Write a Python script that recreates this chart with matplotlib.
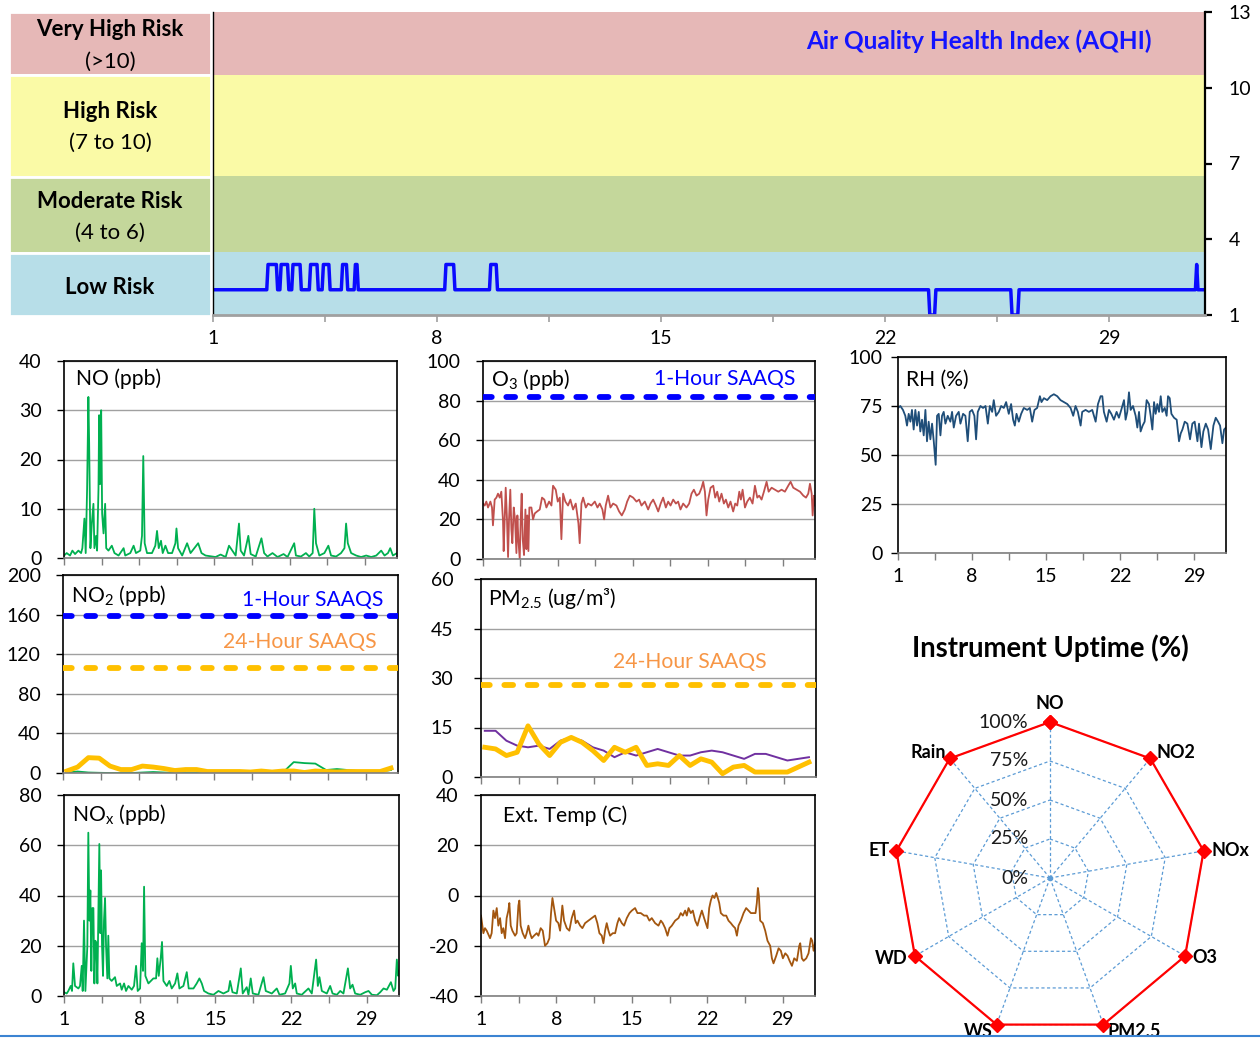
import numpy as np
import matplotlib
matplotlib.use('Agg')
import matplotlib.pyplot as plt
from matplotlib.lines import Line2D
from matplotlib.patches import Rectangle

plt.rcParams['font.family'] = ['Lato', 'DejaVu Sans']
plt.rcParams['mathtext.fontset'] = 'custom'
plt.rcParams['mathtext.rm'] = 'Lato'
plt.rcParams['mathtext.it'] = 'Lato:italic'
plt.rcParams['mathtext.bf'] = 'Lato:bold'
plt.rcParams['axes.unicode_minus'] = False

# ---------------- DATA ----------------
risk_names = ["Very High Risk", "High Risk", "Moderate Risk", "Low Risk"]
risk_ranges = ["(>10)", "(7 to 10)", "(4 to 6)", ""]
risk_edges = [13, 10.5, 6.5, 3.5, 1]
risk_colors = ["#E6B8B7", "#FAFAA6", "#C4D79B", "#B7DEE8"]
aqhi_ticks = [1, 4, 7, 10, 13]

day_ticks = [1, 4.5, 8, 11.5, 15, 18.5, 22, 25.5, 29]
day_labels = ["1", "", "8", "", "15", "", "22", "", "29"]

aqhi_day = [1.0, 2.68, 2.72, 2.98, 3.02, 3.09, 3.13, 3.33, 3.37, 3.46, 3.50, 3.72, 3.76,
            4.01, 4.05, 4.25, 4.29, 4.41, 4.45, 4.62, 4.66, 5.01, 5.05, 5.17, 5.21, 5.41,
            5.45, 5.50, 5.54, 8.24, 8.28, 8.52, 8.56, 9.64, 9.68, 9.85, 9.89, 23.36, 23.40,
            23.55, 23.59, 25.93, 25.97, 26.15, 26.19, 31.70, 31.74, 31.78, 31.97]
aqhi_val = [2, 2, 3, 3, 2, 2, 3, 3, 2, 2, 3, 3, 2,
            2, 3, 3, 2, 2, 3, 3, 2, 2, 3, 3, 2, 2,
            3, 3, 2, 2, 3, 3, 2, 2, 3, 3, 2, 2, 1,
            1, 2, 2, 1, 1, 2, 2, 3, 2, 2]

no_day = [1.0, 1.25, 1.56, 1.78, 2.03, 2.34, 2.59, 2.71, 2.90, 3.02, 3.15, 3.27, 3.34, 3.46,
          3.59, 3.74, 3.83, 3.99, 4.08, 4.21, 4.27, 4.36, 4.46, 4.55, 4.68, 4.83, 4.93, 5.14,
          5.45, 5.70, 6.08, 6.55, 6.70, 7.17, 7.48, 7.70, 8.10, 8.26, 8.38, 8.51, 8.73, 9.19,
          9.50, 9.66, 9.82, 10.03, 10.19, 10.44, 10.69, 11.06, 11.37, 11.47, 11.62, 12.0,
          12.46, 12.78, 13.49, 13.80, 14.18, 15.11, 15.58, 16.05, 16.36, 16.67, 16.98, 17.29,
          17.45, 17.76, 18.16, 18.38, 18.85, 19.38, 19.63, 19.94, 20.41, 20.88, 21.44, 21.81,
          22.43, 22.59, 23.06, 23.52, 23.83, 24.15, 24.30, 24.46, 24.77, 25.24, 25.61, 25.86,
          26.33, 26.79, 27.11, 27.26, 27.42, 27.73, 28.20, 28.66, 29.13, 29.60, 30.07, 30.53,
          30.84, 31.16, 31.37, 31.62, 32.0]
no_val = [0.5, 1.0, 0.5, 1.5, 0.8, 1.5, 1.0, 2.0, 8.0, 1.0, 14, 32.7, 23.5, 2,
          7, 11, 2, 4.5, 1.5, 14, 29, 15, 30, 9, 5, 11, 2, 1.5,
          2.5, 1, 0.5, 2, 0.5, 1, 2.5, 1, 1.5, 4.5, 20.7, 3, 1, 1,
          2.5, 5.5, 2, 3.5, 1, 2.5, 1, 1, 3, 6, 2, 0.5,
          3, 1, 3, 1, 0.5, 0.2, 0.7, 0.2, 2.5, 1.5, 0.5, 7,
          1.5, 0.5, 4.5, 0.8, 0.3, 4, 1, 0.3, 1, 0.2, 0.8, 0.2,
          3, 0.5, 0.3, 1, 0.3, 1, 10, 3, 0.5, 1, 2.5, 0.5,
          0.3, 1, 2, 7, 3, 1, 0.5, 0.2, 0.5, 0.2, 0.5, 1.5,
          0.5, 1, 2, 0.5, 1]

nox_day = [1.0, 1.25, 1.40, 1.62, 1.74, 1.86, 2.02, 2.33, 2.48, 2.64, 2.73, 2.85, 2.98, 3.16,
           3.25, 3.35, 3.44, 3.53, 3.62, 3.72, 3.81, 3.90, 3.99, 4.09, 4.18, 4.27, 4.36, 4.43,
           4.52, 4.61, 4.70, 4.80, 4.89, 5.01, 5.10, 5.20, 5.41, 5.72, 5.88, 6.19, 6.34, 6.56,
           6.74, 6.96, 7.27, 7.48, 7.67, 7.82, 8.04, 8.19, 8.31, 8.41, 8.53, 8.81, 9.27, 9.52,
           9.64, 9.77, 9.95, 10.07, 10.20, 10.51, 10.75, 10.97, 11.28, 11.49, 11.68, 12.05,
           12.36, 12.54, 12.98, 13.28, 13.53, 13.75, 13.96, 14.36, 14.83, 15.29, 15.75, 16.22,
           16.37, 16.59, 16.99, 17.36, 17.54, 17.91, 18.07, 18.28, 18.47, 18.99, 19.46, 19.67,
           20.23, 20.69, 20.94, 21.46, 21.86, 21.99, 22.17, 22.39, 22.54, 23.0, 23.62, 23.93,
           24.33, 24.49, 24.64, 24.86, 25.32, 25.63, 25.85, 26.25, 26.56, 26.86, 27.27, 27.48,
           27.70, 27.94, 28.41, 28.87, 29.18, 29.49, 29.95, 30.26, 30.57, 30.88, 31.25, 31.49,
           31.65, 31.80, 31.93, 32.0]
nox_val = [1.5, 1, 2, 4, 2, 13, 4, 3, 4, 12, 2, 30, 2, 20,
           65, 30, 42, 10, 35, 35, 5, 22, 21, 5, 34, 60.5, 25, 50,
           20, 8, 30, 39, 20, 7, 24, 7, 6, 7.5, 4, 5, 2.5, 5,
           2, 4, 2.5, 4, 12, 2, 3, 21, 10, 43.5, 8, 5, 7, 7,
           15, 8, 15, 21.5, 6, 4, 6, 3, 5, 9, 3, 4,
           9.5, 3, 3, 5, 7, 5, 2, 1, 0.5, 2, 1, 2,
           6, 1.5, 1, 11, 1, 3.5, 0.5, 7, 1, 0.5, 7.5, 2,
           1, 3, 0.5, 1, 5, 12, 3, 5, 1, 0.5, 3, 1,
           14.5, 4, 7.5, 2, 1, 4, 1, 0.5, 2, 1, 11, 3,
           4.5, 1, 0.5, 1.5, 2, 0.5, 0.3, 1.5, 3, 2.5, 5.5, 2,
           3, 14.5, 8, 10]

o3_day = [1.0, 1.16, 1.31, 1.47, 1.69, 1.84, 1.93, 2.09, 2.25, 2.40, 2.56, 2.71, 2.87, 2.93,
          3.02, 3.12, 3.24, 3.34, 3.43, 3.55, 3.65, 3.74, 3.87, 3.99, 4.12, 4.21, 4.30, 4.43,
          4.52, 4.61, 4.71, 4.83, 4.96, 5.05, 5.14, 5.24, 5.33, 5.52, 5.67, 5.83, 6.05, 6.30,
          6.51, 6.73, 6.92, 7.17, 7.39, 7.54, 7.79, 7.98, 8.17, 8.32, 8.48, 8.69, 8.94, 9.16,
          9.41, 9.66, 9.91, 10.03, 10.19, 10.35, 10.60, 10.81, 11.12, 11.44, 11.69, 11.90,
          12.15, 12.31, 12.46, 12.68, 12.90, 13.15, 13.46, 13.71, 13.96, 14.24, 14.46, 14.71,
          15.02, 15.33, 15.58, 15.80, 16.11, 16.42, 16.64, 16.89, 17.14, 17.36, 17.59, 17.82,
          18.07, 18.29, 18.51, 18.76, 19.01, 19.22, 19.44, 19.69, 20.0, 20.25, 20.47, 20.69,
          20.94, 21.19, 21.41, 21.56, 21.72, 21.87, 22.03, 22.25, 22.50, 22.68, 22.87, 23.06,
          23.27, 23.49, 23.68, 23.90, 24.11, 24.36, 24.55, 24.74, 24.93, 25.08, 25.24, 25.46,
          25.67, 25.92, 26.17, 26.39, 26.61, 26.79, 27.01, 27.23, 27.48, 27.67, 27.95, 28.26,
          28.57, 28.88, 29.19, 29.50, 29.72, 29.97, 30.28, 30.60, 30.91, 31.16, 31.37, 31.53,
          31.69, 31.78, 31.91, 32.0]
o3_val = [28, 27, 29, 26, 29, 26, 17, 30, 31, 33, 31, 34, 19, 4,
          20, 36, 20, 1, 20, 35, 15, 8, 26, 20, 3, 22, 10, 0,
          20, 33, 10, 2, 25, 5, 22, 4, 26, 26, 20, 23, 24, 25,
          31, 30, 26, 29, 27, 37, 35, 29, 31, 10, 33, 29, 27, 30,
          25, 28, 18, 8, 28, 31, 26, 28, 27, 29, 26, 28,
          25, 20, 27, 32, 26, 28, 27, 24, 22, 25, 29, 32,
          31, 29, 30, 27, 29, 25, 28, 30, 27, 24, 28, 31,
          26, 29, 27, 30, 28, 29, 25, 28, 26, 28, 33, 35,
          32, 33, 36, 39, 34, 22, 30, 36, 37, 31, 34, 29,
          33, 28, 30, 26, 29, 24, 28, 27, 34, 30, 35, 26,
          29, 31, 28, 37, 31, 32, 30, 34, 39, 34, 36, 35,
          34, 35, 34, 37, 39, 36, 35, 34, 32, 31, 33, 38,
          33, 22, 32, 27]

rh_day = [1.0, 1.22, 1.47, 1.69, 1.85, 2.01, 2.17, 2.32, 2.48, 2.64, 2.80, 2.96, 3.11, 3.27,
          3.43, 3.59, 3.74, 3.90, 4.06, 4.22, 4.38, 4.56, 4.69, 4.85, 5.01, 5.16, 5.32, 5.48,
          5.70, 5.95, 6.11, 6.27, 6.49, 6.74, 6.90, 7.15, 7.37, 7.59, 7.78, 8.0, 8.22, 8.38,
          8.54, 8.79, 9.04, 9.27, 9.49, 9.68, 9.90, 10.05, 10.27, 10.53, 10.75, 11.0, 11.22,
          11.47, 11.69, 11.88, 12.04, 12.20, 12.42, 12.64, 12.89, 13.21, 13.46, 13.68, 13.90,
          14.15, 14.41, 14.56, 14.79, 15.10, 15.42, 15.73, 16.05, 16.36, 16.68, 17.0, 17.31,
          17.56, 17.78, 18.0, 18.26, 18.41, 18.73, 19.04, 19.36, 19.68, 19.90, 20.15, 20.31,
          20.46, 20.72, 20.94, 21.16, 21.41, 21.66, 21.88, 22.10, 22.36, 22.51, 22.67, 22.83,
          22.99, 23.21, 23.46, 23.62, 23.78, 23.93, 24.12, 24.31, 24.50, 24.72, 24.88, 25.04,
          25.20, 25.35, 25.51, 25.67, 25.83, 25.98, 26.21, 26.39, 26.52, 26.68, 26.84, 27.09,
          27.34, 27.56, 27.72, 27.88, 28.10, 28.35, 28.60, 28.82, 29.04, 29.30, 29.45, 29.68,
          29.86, 30.09, 30.31, 30.56, 30.81, 31.03, 31.25, 31.44, 31.66, 31.82, 32.0]
rh_val = [74, 75, 73, 70, 65, 71, 67, 73, 63, 73, 65, 72, 62, 68,
          60, 73, 57, 67, 58, 66, 57, 45, 70, 71, 60, 70, 72, 66,
          70, 67, 72, 64, 70, 72, 66, 71, 70, 57, 72, 73, 70, 58,
          72, 75, 74, 75, 66, 75, 72, 78, 70, 72, 75, 74, 77,
          71, 76, 68, 65, 71, 67, 71, 74, 73, 74, 67, 73,
          74, 80, 77, 79, 78, 80, 81, 80, 78, 77, 76, 74,
          70, 75, 72, 65, 72, 73, 72, 73, 67, 76, 80, 80,
          72, 67, 73, 71, 68, 72, 69, 73, 78, 68, 72, 82,
          73, 75, 70, 64, 72, 62, 65, 67, 78, 76, 70, 63,
          77, 71, 76, 72, 80, 72, 74, 70, 80, 79, 71, 69,
          68, 57, 61, 63, 67, 66, 58, 66, 67, 57, 66, 54,
          62, 66, 63, 53, 65, 69, 67, 65, 56, 63, 64]

temp_day = [1.0, 1.22, 1.37, 1.53, 1.84, 1.99, 2.15, 2.30, 2.46, 2.61, 2.77, 2.92, 3.07, 3.23,
            3.38, 3.54, 3.63, 3.76, 3.91, 4.16, 4.31, 4.47, 4.56, 4.68, 4.87, 5.09, 5.24, 5.40,
            5.55, 5.71, 5.92, 6.17, 6.33, 6.54, 6.73, 6.94, 7.16, 7.35, 7.50, 7.63, 7.78, 7.97,
            8.18, 8.34, 8.55, 8.71, 8.96, 9.20, 9.42, 9.64, 9.79, 9.95, 10.20, 10.41, 10.66,
            10.97, 11.28, 11.59, 11.80, 11.99, 12.21, 12.36, 12.52, 12.67, 12.83, 12.98, 13.23,
            13.45, 13.66, 13.82, 14.07, 14.28, 14.53, 14.78, 15.0, 15.30, 15.52, 15.83, 16.14,
            16.39, 16.63, 16.85, 17.16, 17.47, 17.69, 17.87, 18.09, 18.31, 18.49, 18.71, 19.02,
            19.33, 19.54, 19.73, 19.95, 20.10, 20.26, 20.47, 20.66, 20.88, 21.09, 21.28, 21.50,
            21.71, 22.02, 22.18, 22.33, 22.49, 22.67, 22.83, 22.98, 23.11, 23.26, 23.51, 23.76,
            23.97, 24.19, 24.37, 24.59, 24.75, 24.90, 25.12, 25.37, 25.61, 25.83, 26.05, 26.29,
            26.48, 26.60, 26.70, 26.79, 26.91, 27.16, 27.38, 27.59, 27.84, 28.0, 28.15, 28.40,
            28.62, 28.83, 29.02, 29.24, 29.45, 29.64, 29.86, 30.07, 30.32, 30.54, 30.63, 30.78,
            30.94, 31.19, 31.40, 31.62, 31.74, 31.87, 32.0]
temp_val = [-8, -15, -13, -14, -17, -15, -6, -9, -5, -12, -9, -15, -13, -17,
            -9, -6, -3, -12, -14, -16, -15, -4, -2, -12, -15, -17, -15, -12,
            -15, -17, -16, -15, -16, -13, -14, -20, -19, -17, -7, -1, -5, -10,
            -11, -14, -4, -10, -13, -14, -9, -6, -11, -10, -12, -13, -11,
            -10, -9, -8, -11, -15, -16, -19, -14, -11, -14, -16, -15,
            -15, -11, -9, -11, -12, -9, -7, -6, -5, -7, -7, -8,
            -8, -10, -9, -11, -12, -10, -11, -13, -16, -13, -12, -10,
            -9, -7, -8, -6, -8, -5, -7, -6, -10, -12, -9, -6,
            -9, -13, -5, -2, 0, -1, 1, -1, -3, -7, -8, -8,
            -10, -11, -12, -13, -16, -12, -10, -7, -5, -6, -7, -7,
            -7, -3, 3, 0, -10, -11, -14, -18, -20, -25, -27, -24,
            -21, -22, -25, -23, -24, -26, -28, -25, -26, -20, -19, -25,
            -26, -25, -23, -17, -18, -22, -19]

daily_day = [1.35, 2.35, 3.35, 4.35, 5.35, 6.35, 7.35, 8.35, 9.35, 10.35, 11.35, 12.35, 13.35,
             14.35, 15.35, 16.35, 17.35, 18.35, 19.35, 20.35, 21.35, 22.35, 23.35, 24.35, 25.35,
             26.35, 27.35, 28.35, 29.35, 30.35, 31.35]
no2_daily = [2, 6, 15.5, 15, 7, 3.5, 3.5, 7, 6, 4.5, 2.5, 3.5, 3.5, 1.5, 1.5, 1.5,
             1.5, 1, 2, 1, 2, 2, 0.5, 2, 1.5, 1, 1.5, 1.5, 1.5, 1.5, 5]
no2_other = [0.5, 1.5, 0.5, 0.2, 0, 0, 0, 0.5, 1, 0.5, 0, 0, 0, 0, 0, 0.5,
             1, 0.5, 0.5, 0.5, 0.5, 11, 10, 9.5, 3, 4, 3, 2, 2, 1.5, 3]
pm_daily = [9, 8.5, 6.5, 7.5, 15.5, 10, 6.5, 10.5, 12, 10.5, 8, 5, 9, 7.5, 9, 3.5,
            4, 3.5, 6.5, 3.5, 5.5, 4.5, 1, 3, 3.5, 1.5, 1.5, 1.5, 1.5, 3, 4.5]
pm_other = [14, 14, 11, 9.5, 9, 9.5, 8.5, 11, 12, 11, 9, 8, 6, 7.5, 6.5, 7.5,
            8.5, 7.5, 6.5, 6.5, 7.5, 8, 7.5, 6.5, 5.5, 7, 7, 6, 5, 5.5, 6]

month_span = [1, 32]
o3_1h = [82, 82]
no2_1h = [159, 159]
no2_24h = [106, 106]
pm_24h = [28, 28]

radar_labels = ["NO", "NO2", "NOx", "O3", "PM2.5", "WS", "WD", "ET", "Rain"]
radar_vals = [100, 100, 100, 100, 100, 100, 100, 100, 100]
radar_levels = [25, 50, 75, 100]
radar_level_labels = ["0%", "25%", "50%", "75%", "100%"]

# ---------------- FIGURE ----------------
W, H = 1260, 1041
fig = plt.figure(figsize=(W / 100, H / 100), dpi=100)


def box(l, t, r, b):
    return [l / W, 1 - b / H, (r - l) / W, (b - t) / H]


TS = 14    # tick label size
LS = 15.2  # in-panel label size
GRID = '#A0A0A0'
BLUE = '#0000FF'
GOLD = '#FFC000'
ORANGE_T = '#F79646'

# ---- risk label column ----
axl = fig.add_axes(box(9, 12, 211, 316))
axl.set_xlim(0, 1)
axl.set_ylim(1, 13)
for i in range(4):
    axl.axhspan(risk_edges[i + 1], risk_edges[i], facecolor=risk_colors[i],
                edgecolor='white', lw=2)
axl.axis('off')
name_y = [0.941, 0.674, 0.378, 0.095]
range_y = [0.836, 0.569, 0.273, None]
for i in range(4):
    axl.text(0.5, name_y[i], risk_names[i], transform=axl.transAxes, ha='center',
             va='center', fontsize=16, fontweight='bold')
    if range_y[i] is not None:
        axl.text(0.5, range_y[i], risk_ranges[i], transform=axl.transAxes, ha='center',
                 va='center', fontsize=16)

# ---- AQHI ----
ax = fig.add_axes(box(213, 12, 1205, 315))
for i in range(4):
    ax.axhspan(risk_edges[i + 1], risk_edges[i], facecolor=risk_colors[i], lw=0)
ax.plot(aqhi_day, aqhi_val, color='#0A0AFF', lw=2.5, solid_joinstyle='round')
ax.set_xlim(1, 32)
ax.set_ylim(1, 13)
ax.yaxis.tick_right()
ax.set_yticks(aqhi_ticks)
ax.set_xticks(day_ticks)
ax.set_xticklabels(day_labels)
ax.spines['top'].set_visible(False)
ax.spines['left'].set_color('black')
ax.spines['left'].set_linewidth(1.0)
ax.spines['right'].set_linewidth(1.6)
ax.spines['bottom'].set_color('#A0A0A0')
ax.spines['bottom'].set_linewidth(2.0)
ax.tick_params(axis='y', direction='out', length=5, width=1.6, labelsize=TS, pad=12)
ax.tick_params(axis='x', direction='out', length=5, width=1.2, color='#A0A0A0',
               labelsize=TS, pad=6)
ax.text(0.9466, 0.904, "Air Quality Health Index (AQHI)", transform=ax.transAxes,
        ha='right', va='center', fontsize=17.6, fontweight='bold', color='#1414FF')


def panel(rect, ylim, yticks, show_x, ypad=11):
    a = fig.add_axes(box(*rect))
    a.set_xlim(1, 32)
    a.set_ylim(*ylim)
    a.set_yticks(yticks)
    a.set_xticks(day_ticks)
    a.set_xticklabels(day_labels)
    a.yaxis.grid(True, color=GRID, lw=1.0)
    a.set_axisbelow(True)
    for s in a.spines.values():
        s.set_color('black')
        s.set_linewidth(1.2)
    a.spines['bottom'].set_color('#7F7F7F')
    a.tick_params(axis='y', direction='out', length=5, width=1.0, labelsize=TS, pad=ypad)
    a.tick_params(axis='x', direction='out', length=5, width=1.0, color='#7F7F7F',
                  labelsize=TS, pad=6, labelbottom=show_x)
    return a


def dashed(a, yv, color):
    a.plot(month_span, yv, color=color, lw=4.2, dashes=(1.5, 2.5),
           dash_capstyle='round', zorder=3)


# NO
a = panel((64, 361, 397, 558), (0, 40), [0, 10, 20, 30, 40], False)
a.plot(no_day, no_val, color='#00B050', lw=1.3)
a.text(0.036, 0.909, "NO (ppb)", transform=a.transAxes, ha='left', va='center', fontsize=LS)

# NO2
a = panel((63, 575, 398, 773), (0, 200), [0, 40, 80, 120, 160, 200], False)
dashed(a, no2_1h, BLUE)
dashed(a, no2_24h, GOLD)
a.plot(daily_day, no2_other, color='#00B050', lw=1.3)
a.plot(daily_day, no2_daily, color=GOLD, lw=3.5, solid_joinstyle='round')
a.text(0.024, 0.894, r"NO$_2$ (ppb)", transform=a.transAxes, ha='left', va='center', fontsize=LS)
a.text(0.955, 0.874, "1-Hour SAAQS", transform=a.transAxes, ha='right', va='center',
       fontsize=LS, color=BLUE)
a.text(0.937, 0.662, "24-Hour SAAQS", transform=a.transAxes, ha='right', va='center',
       fontsize=LS, color=ORANGE_T)

# NOx
a = panel((64, 795, 399, 996), (0, 80), [0, 20, 40, 60, 80], True)
a.plot(nox_day, nox_val, color='#00B050', lw=1.3)
a.text(0.024, 0.905, r"NO$_\mathregular{x}$ (ppb)", transform=a.transAxes, ha='left', va='center',
       fontsize=LS)

# O3
a = panel((483, 361, 815, 559), (0, 100), [0, 20, 40, 60, 80, 100], False)
dashed(a, o3_1h, BLUE)
a.plot(o3_day, o3_val, color='#C0504D', lw=1.3)
a.text(0.024, 0.909, r"O$_3$ (ppb)", transform=a.transAxes, ha='left', va='center', fontsize=LS)
a.text(0.94, 0.909, "1-Hour SAAQS", transform=a.transAxes, ha='right', va='center',
       fontsize=LS, color=BLUE)

# PM2.5
a = panel((481, 579, 816, 777), (0, 60), [0, 15, 30, 45, 60], False, ypad=15)
dashed(a, pm_24h, GOLD)
a.plot(daily_day, pm_other, color='#7030A0', lw=1.4)
a.plot(daily_day, pm_daily, color=GOLD, lw=3.5, solid_joinstyle='round')
a.text(0.021, 0.904, r"PM$_{2.5}$ (ug/m³)", transform=a.transAxes, ha='left', va='center',
       fontsize=LS)
a.text(0.854, 0.58, "24-Hour SAAQS", transform=a.transAxes, ha='right', va='center',
       fontsize=LS, color=ORANGE_T)

# Ext temp
a = panel((481, 795, 815, 996), (-40, 40), [-40, -20, 0, 20, 40], True)
a.plot(temp_day, temp_val, color='#A3560F', lw=1.3)
a.text(0.066, 0.896, "Ext. Temp (C)", transform=a.transAxes, ha='left', va='center',
       fontsize=LS)

# RH
a = panel((898, 357, 1226, 553), (0, 100), [0, 25, 50, 75, 100], True, ypad=6)
a.plot(rh_day, rh_val, color='#1F4E79', lw=1.3)
a.text(0.024, 0.883, "RH (%)", transform=a.transAxes, ha='left', va='center', fontsize=LS)

# ---- Radar ----
fig.text(1050 / W, 1 - 648 / H, "Instrument Uptime (%)", ha='center', va='center',
         fontsize=19.8, fontweight='bold')
ar = fig.add_axes(box(894, 722, 1206, 1034), projection='polar')
ar.set_theta_offset(np.pi / 2)
ar.set_theta_direction(-1)
ar.set_ylim(0, 100)
ar.grid(False)
ar.set_xticks([])
ar.set_yticks([])
ar.spines['polar'].set_visible(False)
ar.patch.set_alpha(0)
ang = np.deg2rad(np.arange(len(radar_labels)) * 360 / len(radar_labels))
ang_c = np.append(ang, ang[0])
for lv in radar_levels:
    ar.plot(ang_c, [lv] * len(ang_c), color='#5B9BD5', lw=0.9, linestyle=(0, (2.5, 2)))
for t in ang:
    ar.plot([t, t], [0, 100], color='#5B9BD5', lw=0.9, linestyle=(0, (2.5, 2)))
ar.plot([0], [0], marker='o', ms=3, color='#5B9BD5')
vals_c = radar_vals + radar_vals[:1]
ar.plot(ang_c, vals_c, color='#FF0000', lw=1.6, marker='D', ms=7.5, mfc='#FF0000',
        mec='#FF0000', zorder=5, clip_on=False)
for lbl, lv in zip(radar_level_labels, [0] + radar_levels):
    ar.annotate(lbl, (0, lv), xytext=(-22, 0), textcoords='offset pixels', ha='right',
                va='center', fontsize=TS, color='#1A1A1A', annotation_clip=False)
offs = [(0, 10, 'center', 'bottom'), (6, 6, 'left', 'center'), (8, 0, 'left', 'center'),
        (7, -2, 'left', 'center'), (4, -7, 'left', 'center'), (-4, -7, 'right', 'center'),
        (-7, -2, 'right', 'center'), (-7, 0, 'right', 'center'), (-4, 6, 'right', 'center')]
for lbl, t, v, (dx, dy, ha, va) in zip(radar_labels, ang, radar_vals, offs):
    ar.annotate(lbl, (t, v), xytext=(dx, dy), textcoords='offset pixels', ha=ha, va=va,
                fontsize=13, fontweight='bold', annotation_clip=False)

# bottom rule
fig.add_artist(Rectangle((0, 0), 1, 4.5 / H, transform=fig.transFigure, facecolor='white',
                         edgecolor='none', zorder=10))
fig.add_artist(Line2D([0, 1], [1 - 1036 / H, 1 - 1036 / H], transform=fig.transFigure,
                      color='#3C84D2', lw=1.5, zorder=11))

fig.savefig('out.png', dpi=100)
